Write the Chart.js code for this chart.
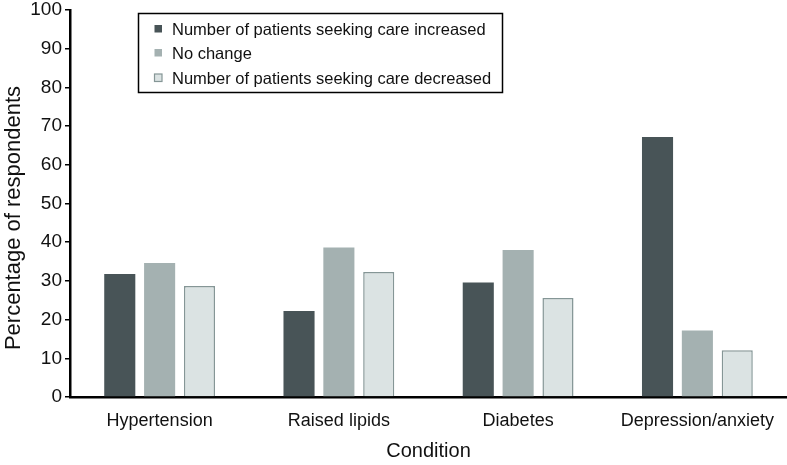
<!DOCTYPE html>
<html>
<head>
<meta charset="utf-8">
<script src="https://cdn.jsdelivr.net/npm/chart.js@4.4.1/dist/chart.umd.min.js"></script>
<style>
  html, body { margin: 0; padding: 0; background: #fff; }
  #wrap { width: 787px; height: 465px; position: relative; }
</style>
</head>
<body>
<div id="wrap"><canvas id="c" width="787" height="465"></canvas></div>
<script>
const categories = ["Hypertension", "Raised lipids", "Diabetes", "Depression/anxiety"];
const seriesNames = [
  "Number of patients seeking care increased",
  "No change",
  "Number of patients seeking care decreased"
];
const increased = [31.8, 22.2, 29.6, 67.2];
const noChange = [34.6, 38.6, 38.0, 17.2];
const decreased = [28.7, 32.3, 25.6, 12.1];
const yTitle = "Percentage of respondents";
const xTitle = "Condition";

const FONT = "'Liberation Sans', Arial, sans-serif";

const boxLegend = {
  id: 'boxLegend',
  afterDraw(chart) {
    const ctx = chart.ctx;
    const x0 = 138.5, y0 = 13.5, w = 364, h = 79;
    ctx.save();
    ctx.fillStyle = '#fff';
    ctx.fillRect(x0, y0, w, h);
    ctx.strokeStyle = '#000';
    ctx.lineWidth = 1.5;
    ctx.strokeRect(x0, y0, w, h);
    const rows = [29, 53, 78];
    ctx.font = "16.5px " + FONT;
    ctx.textBaseline = 'middle';
    chart.data.datasets.forEach((ds, i) => {
      const y = rows[i];
      ctx.fillStyle = ds.backgroundColor;
      ctx.fillRect(154.5, y - 4, 7.5, 7.5);
      if (ds.borderWidth) {
        ctx.strokeStyle = ds.borderColor;
        ctx.lineWidth = 1.2;
        ctx.strokeRect(154.5, y - 4, 7.5, 7.5);
      }
      ctx.fillStyle = '#111';
      ctx.fillText(ds.label, 172, y + 1);
    });
    // y-axis title
    ctx.translate(14, 218);
    ctx.rotate(-Math.PI / 2);
    ctx.font = "22px " + FONT;
    ctx.textAlign = 'center';
    ctx.fillStyle = '#111';
    ctx.fillText(yTitle, 0, 0);
    ctx.restore();
  }
};

new Chart(document.getElementById('c'), {
  type: 'bar',
  data: {
    labels: categories,
    datasets: [
      { label: seriesNames[0], data: increased, backgroundColor: '#485457', borderWidth: 0 },
      { label: seriesNames[1], data: noChange, backgroundColor: '#a4b1b1', borderWidth: 0 },
      { label: seriesNames[2], data: decreased, backgroundColor: '#dbe3e3', borderColor: '#859696', borderWidth: 1.5 }
    ]
  },
  options: {
    responsive: false,
    animation: false,
    devicePixelRatio: 1,
    layout: { padding: { top: 0, right: 0, left: 0, bottom: 0 } },
    categoryPercentage: 0.667,
    barPercentage: 0.78,
    plugins: { legend: { display: false }, tooltip: { enabled: false } },
    scales: {
      x: {
        grid: { display: false },
        border: { display: true, color: '#000', width: 2.5 },
        ticks: { color: '#111', font: { family: FONT, size: 18 }, padding: 5, maxRotation: 0 },
        title: { display: true, text: xTitle, color: '#111', font: { family: FONT, size: 20 }, padding: { top: 0, bottom: 2 } },
        afterFit(s) { s.height = 68; s.paddingLeft = 0; s.paddingRight = 0; }
      },
      y: {
        min: 0, max: 100,
        grid: { display: true, drawOnChartArea: false, drawTicks: true, tickLength: 5, color: '#000', lineWidth: 1.5 },
        border: { display: true, color: '#000', width: 2.5 },
        ticks: { stepSize: 10, color: '#111', font: { family: FONT, size: 19 }, padding: 3 },
        afterFit(s) { s.width = 70; s.paddingTop = 10; s.paddingBottom = 0; }
      }
    }
  },
  plugins: [boxLegend]
});
</script>
</body>
</html>
